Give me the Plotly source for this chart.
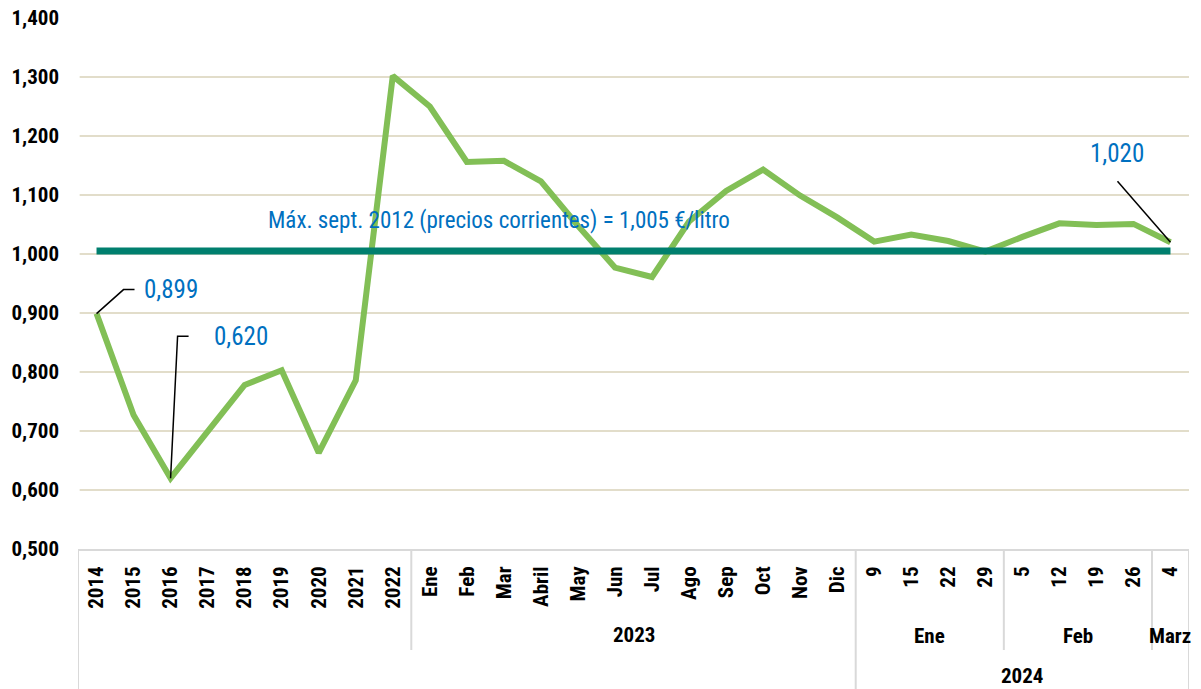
import plotly.graph_objects as go

# ---- categories ----
years = ["2014", "2015", "2016", "2017", "2018", "2019", "2020", "2021", "2022"]
months_2023 = ["Ene", "Feb", "Mar", "Abril", "May", "Jun", "Jul", "Ago", "Sep", "Oct", "Nov", "Dic"]
weeks_ene_2024 = ["9", "15", "22", "29"]
weeks_feb_2024 = ["5", "12", "19", "26"]
weeks_mar_2024 = ["4"]

# ---- values (€/litro) ----
price_years = [0.899, 0.727, 0.620, 0.697, 0.778, 0.803, 0.663, 0.786, 1.302]
price_2023 = [1.250, 1.156, 1.158, 1.123, 1.048, 0.977, 0.961, 1.055, 1.107, 1.143, 1.099, 1.062]
price_ene_2024 = [1.021, 1.033, 1.022, 1.004]
price_feb_2024 = [1.029, 1.052, 1.049, 1.051]
price_mar_2024 = [1.020]
max_sept_2012 = 1.005

y_ticks = [0.5, 0.6, 0.7, 0.8, 0.9, 1.0, 1.1, 1.2, 1.3, 1.4]

labels = years + months_2023 + weeks_ene_2024 + weeks_feb_2024 + weeks_mar_2024
prices = price_years + price_2023 + price_ene_2024 + price_feb_2024 + price_mar_2024
xs = list(range(len(labels)))

GREEN = "#82BF56"
TEAL = "#007F6E"
BLUE = "#0070C0"
GRID = "#D8D2B8"
SEP = "#D9D9D9"
FONT = "Roboto Condensed, Liberation Sans Narrow, DejaVu Sans Condensed, Roboto, sans-serif"

fig = go.Figure()
fig.add_trace(go.Scatter(x=xs, y=prices, mode="lines",
                         line=dict(color=GREEN, width=6), hoverinfo="skip"))
fig.add_trace(go.Scatter(x=xs, y=[max_sept_2012] * len(xs), mode="lines",
                         line=dict(color=TEAL, width=7), hoverinfo="skip"))

# gridlines (none at the top tick)
for v in y_ticks[1:-1]:
    fig.add_shape(type="line", xref="paper", yref="y", x0=0.0015, x1=1, y0=v, y1=v,
                  line=dict(color=GRID, width=1.5), layer="below")

# category group structure
n_years = len(years)
n23 = len(months_2023)
ne, nf, nm = len(weeks_ene_2024), len(weeks_feb_2024), len(weeks_mar_2024)
b_2023 = n_years - 0.5
b_2024 = n_years + n23 - 0.5
b_feb = b_2024 + ne
b_mar = b_feb + nf
b_end = b_mar + nm
b_start = -0.5

def ppx(px):  # pixel y (from top of page) -> paper y
    return 1 - (px - 18) / 531.0

for bx, bottom in [(b_start, 689), (b_2023, 650), (b_2024, 689), (b_feb, 650), (b_mar, 650), (b_end, 689)]:
    fig.add_shape(type="line", xref="x", yref="paper", x0=bx, x1=bx, y0=0, y1=ppx(bottom),
                  line=dict(color=SEP, width=2))

group_font = dict(family=FONT, size=21, color="black")
for text, lo, hi, ypx in [("<b>2023</b>", b_2023, b_2024, 635),
                          ("<b>Ene</b>", b_2024, b_feb, 636),
                          ("<b>Feb</b>", b_feb, b_mar, 636),
                          ("<b>Marz</b>", b_mar, b_end, 636),
                          ("<b>2024</b>", b_2024, b_end, 676)]:
    fig.add_annotation(x=(lo + hi) / 2, y=ppx(ypx), xref="x", yref="paper", text=text,
                       showarrow=False, font=group_font, xanchor="center", yanchor="middle")

# data labels with leader lines
ann_font = dict(family=FONT, size=25, color=BLUE)
i0 = 0
i_min = prices.index(min(prices[:n_years]))
i_last = len(prices) - 1

fig.add_shape(type="path", xref="x", yref="y", xsizemode="pixel", ysizemode="pixel",
              xanchor=i0, yanchor=prices[i0], path="M0,0 L27,24 L38,24",
              line=dict(color="black", width=1.5))
fig.add_annotation(x=i0, y=prices[i0], text="0,899", showarrow=False, font=ann_font,
                   xanchor="left", yanchor="middle", xshift=45, yshift=24)

fig.add_shape(type="path", xref="x", yref="y", xsizemode="pixel", ysizemode="pixel",
              xanchor=i_min, yanchor=prices[i_min], path="M0,0 L7,142 L18,142",
              line=dict(color="black", width=1.5))
fig.add_annotation(x=i_min, y=prices[i_min], text="0,620", showarrow=False, font=ann_font,
                   xanchor="left", yanchor="middle", xshift=41, yshift=142)

fig.add_shape(type="path", xref="x", yref="y", xsizemode="pixel", ysizemode="pixel",
              xanchor=i_last, yanchor=prices[i_last], path="M0,0 L-53,61",
              line=dict(color="black", width=1.5))
fig.add_annotation(x=i_last, y=prices[i_last], text="1,020", showarrow=False, font=ann_font,
                   xanchor="center", yanchor="middle", xshift=-53, yshift=89)

fig.add_annotation(x=0.379, xref="paper", y=max_sept_2012, yref="y",
                   text="Máx. sept. 2012 (precios corrientes) = 1,005 €/litro",
                   showarrow=False, font=dict(family=FONT, size=23, color=BLUE),
                   xanchor="center", yanchor="middle", yshift=31)

fig.update_layout(
    width=1201, height=689,
    margin=dict(l=78, r=12, t=18, b=140, autoexpand=False),
    plot_bgcolor="white", paper_bgcolor="white",
    showlegend=False,
    separators=",.",
    xaxis=dict(range=[b_start, b_end], tickmode="array", tickvals=xs, ticktext=["<b>%s</b>" % t for t in labels],
               tickangle=-90, showgrid=False, zeroline=False, showline=True, linecolor=SEP, linewidth=2,
               ticks="", ticklabelstandoff=7, automargin=False,
               tickfont=dict(family=FONT, size=21, color="black")),
    yaxis=dict(range=[0.5, 1.4], tickmode="array", tickvals=y_ticks,
               ticktext=["<b>%s</b>" % ("%.3f" % v).replace(".", ",") for v in y_ticks],
               showgrid=False, zeroline=False, showline=False, ticks="", ticklabelstandoff=18,
               automargin=False, tickfont=dict(family=FONT, size=21, color="black")),
)

fig.write_html("out.html", config={"displayModeBar": False},
               post_script="document.body.style.margin='0';document.body.style.overflow='hidden';")
